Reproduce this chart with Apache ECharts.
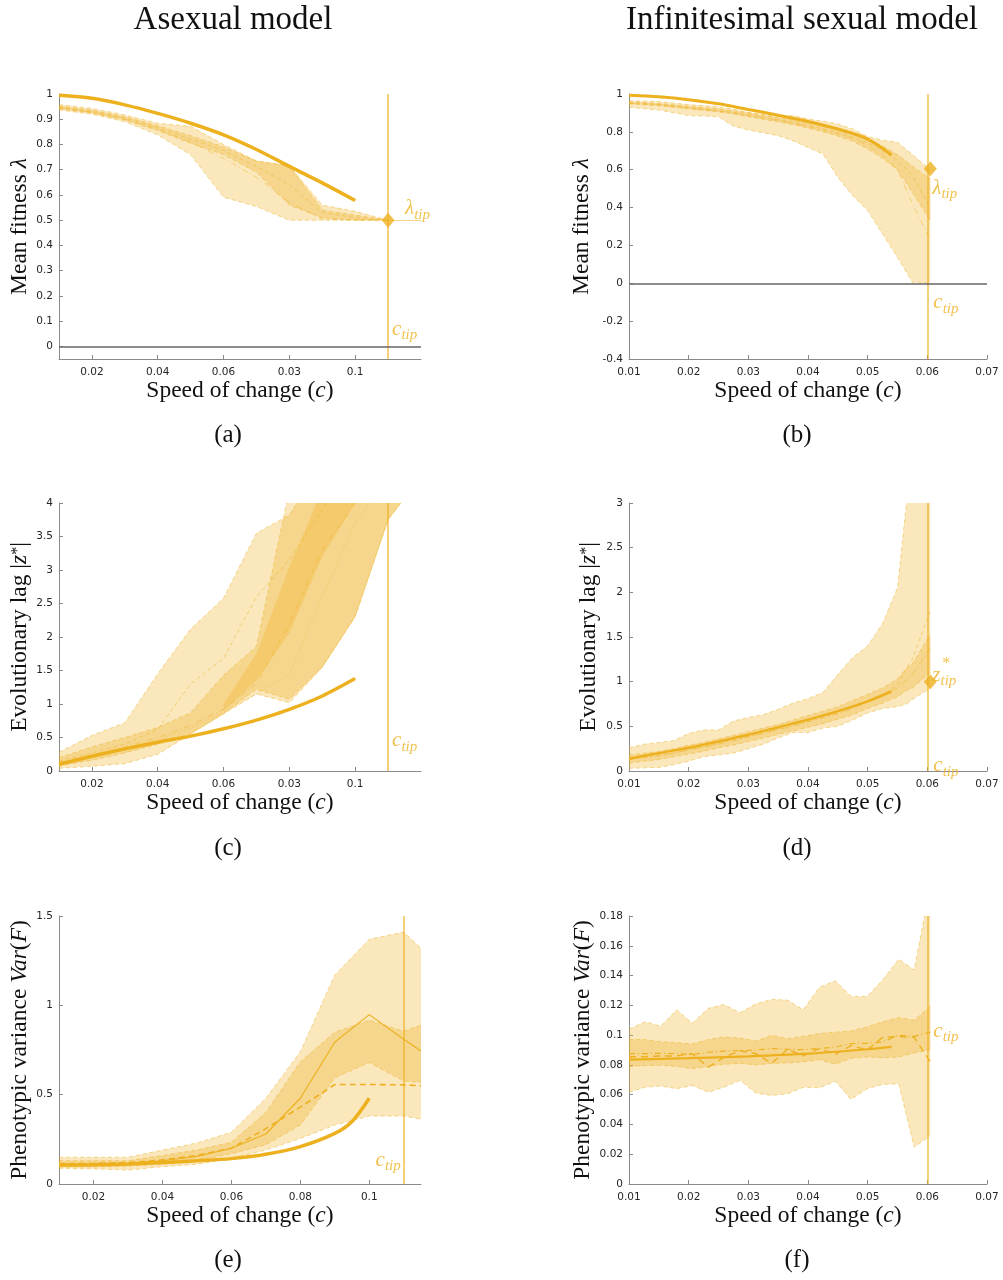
<!DOCTYPE html>
<html><head><meta charset="utf-8">
<script src="https://cdn.jsdelivr.net/npm/echarts@6/dist/echarts.min.js"></script>
<style>html,body{margin:0;padding:0;background:#fff}#c{width:1003px;height:1280px}</style>
</head><body><div id="c"></div><script>
// ---------------- DATA ----------------
// Panel (a) asexual, mean fitness
const aX = [0.01,0.02,0.03,0.04,0.05,0.06,0.07,0.08,0.09,0.10,0.11];
const aOuterHi = [0.958,0.943,0.917,0.884,0.872,0.80,0.735,0.715,0.56,0.535,0.5];
const aOuterLo = [0.937,0.92,0.89,0.838,0.759,0.591,0.554,0.5,0.5,0.5,0.5];
const aInnerHi = [0.952,0.936,0.91,0.874,0.835,0.79,0.735,0.715,0.54,0.52,0.5];
const aInnerLo = [0.942,0.925,0.897,0.855,0.805,0.76,0.69,0.56,0.51,0.5,0.5];
const aMed1 = [0.947,0.931,0.905,0.866,0.822,0.776,0.712,0.64,0.53,0.51,0.5];
const aMed2 = [0.945,0.928,0.9,0.86,0.81,0.745,0.67,0.57,0.505,0.5,0.5];
const aTheoryX = [0.01,0.02,0.03,0.04,0.05,0.06,0.07,0.08,0.09,0.10];
const aTheory = [0.995,0.983,0.957,0.923,0.884,0.838,0.78,0.713,0.648,0.578];
const cTipA = 0.11, lamTipA = 0.5;

// Panel (b) sexual, mean fitness
const bX = [0.01,0.015,0.02,0.025,0.0275,0.03,0.035,0.0375,0.04,0.0425,0.045,0.0475,0.05,0.0525,0.055,0.0575,0.0605];
const bOuterHi = [0.965,0.96,0.944,0.933,0.92,0.903,0.882,0.886,0.868,0.856,0.842,0.815,0.775,0.756,0.745,0.68,0.6];
const bOuterLo = [0.93,0.915,0.886,0.88,0.83,0.81,0.78,0.753,0.718,0.683,0.56,0.463,0.384,0.26,0.137,0.005,0.0];
const bInnerHi = [0.958,0.95,0.935,0.922,0.912,0.9,0.875,0.862,0.848,0.833,0.815,0.792,0.765,0.725,0.68,0.62,0.55];
const bInnerLo = [0.948,0.938,0.922,0.905,0.895,0.88,0.853,0.838,0.82,0.8,0.778,0.75,0.71,0.66,0.6,0.48,0.33];
const bMed1 = [0.953,0.944,0.928,0.913,0.903,0.89,0.864,0.85,0.834,0.816,0.797,0.773,0.742,0.7,0.65,0.57,0.4];
const bMed2 = [0.952,0.942,0.925,0.91,0.9,0.886,0.86,0.845,0.828,0.81,0.79,0.765,0.73,0.68,0.6,0.42,0.23];
const bTheoryX = [0.01,0.015,0.02,0.025,0.03,0.035,0.04,0.045,0.05,0.054];
const bTheory = [0.993,0.985,0.97,0.948,0.918,0.888,0.855,0.815,0.762,0.678];
const cTipB = 0.0605, lamTipB = 0.605;

// Panel (c) asexual, evolutionary lag
const cX = [0.01,0.02,0.03,0.04,0.05,0.06,0.07,0.08,0.09,0.10,0.11,0.12];
const cOuterHi = [0.28,0.53,0.72,1.45,2.12,2.58,3.55,3.82,4.6,5.3,6.0,6.6];
const cOuterLo = [0.04,0.07,0.11,0.25,0.55,0.85,1.15,1.02,1.55,2.3,3.75,4.4];
const cMidHi = [0.2,0.36,0.5,0.65,0.87,1.43,1.86,4.2,5.0,5.6,6.2,6.8];
const cMidLo = [0.08,0.16,0.27,0.4,0.56,0.86,1.22,1.07,1.55,2.31,3.75,4.4];
const cInX = [0.06,0.07,0.08,0.09,0.10,0.11];
const cInHi = [1.0,1.75,3.05,4.2,5.0,5.6];
const cInLo = [0.9,1.35,2.06,3.2,4.0,4.6];
const cMed1 = [0.15,0.27,0.4,0.62,1.3,1.68,2.6,3.15,3.9,4.6,5.2,5.8];
const cMed2 = [0.13,0.24,0.36,0.5,0.68,0.92,1.3,2.2,3.3,4.0,4.6,5.2];
const cMed3 = [0.12,0.22,0.33,0.47,0.64,0.88,1.15,1.45,2.6,3.7,4.4,5.0];
const cTheoryX = [0.01,0.02,0.03,0.04,0.05,0.06,0.07,0.08,0.09,0.10];
const cTheory = [0.1,0.22,0.33,0.43,0.52,0.63,0.76,0.92,1.12,1.38];
const cTipC = 0.11;

// Panel (d) sexual, evolutionary lag
const dX = [0.01,0.0125,0.015,0.0175,0.02,0.0225,0.025,0.0275,0.03,0.0325,0.035,0.0375,0.04,0.0425,0.045,0.0475,0.05,0.0525,0.055,0.0565,0.0575,0.0605];
const dOuterHi = [0.26,0.3,0.32,0.34,0.42,0.46,0.46,0.56,0.6,0.63,0.69,0.76,0.81,0.88,1.08,1.27,1.4,1.65,2.05,3.0,3.6,4.0];
const dOuterLo = [0.03,0.035,0.04,0.07,0.11,0.16,0.18,0.2,0.25,0.3,0.37,0.43,0.43,0.48,0.5,0.57,0.65,0.7,0.72,0.75,0.8,0.93];
const dInnerHi = [0.18,0.2,0.22,0.25,0.29,0.32,0.36,0.4,0.44,0.48,0.52,0.57,0.62,0.67,0.72,0.79,0.86,0.93,1.03,1.15,1.2,1.53];
const dInnerLo = [0.09,0.11,0.13,0.16,0.19,0.22,0.26,0.29,0.33,0.37,0.41,0.45,0.49,0.53,0.58,0.63,0.7,0.76,0.83,0.9,0.93,1.1];
const dMed1 = [0.135,0.155,0.175,0.2,0.24,0.27,0.31,0.345,0.385,0.425,0.465,0.51,0.555,0.6,0.65,0.71,0.78,0.86,0.96,1.15,1.25,1.8];
const dMed2 = [0.13,0.15,0.17,0.2,0.235,0.265,0.3,0.34,0.38,0.42,0.46,0.505,0.55,0.595,0.64,0.7,0.77,0.84,0.93,1.02,1.08,1.38];
const dTheoryX = [0.01,0.015,0.02,0.025,0.03,0.035,0.04,0.045,0.05,0.054];
const dTheory = [0.138,0.2,0.26,0.33,0.405,0.49,0.575,0.67,0.78,0.89];
const cTipD = 0.0605, zTipD = 1.0;

// Panel (e) asexual, phenotypic variance
const eX = [0.01,0.02,0.03,0.04,0.05,0.06,0.07,0.08,0.09,0.10,0.11,0.115];
const eOuterHi = [0.15,0.15,0.15,0.19,0.23,0.29,0.48,0.74,1.17,1.37,1.41,1.32];
const eOuterLo = [0.088,0.085,0.078,0.097,0.11,0.143,0.19,0.255,0.33,0.38,0.38,0.363];
const eInnerHi = [0.13,0.13,0.13,0.16,0.19,0.233,0.40,0.684,0.85,0.917,0.855,0.89];
const eInnerLo = [0.095,0.095,0.1,0.11,0.13,0.17,0.22,0.33,0.594,0.68,0.576,0.57];
const eMedSolid = [0.11,0.11,0.115,0.13,0.155,0.2,0.28,0.48,0.795,0.948,0.81,0.745];
const eMedDash = [0.115,0.115,0.12,0.135,0.16,0.2,0.31,0.43,0.557,0.557,0.555,0.55];
const eTheoryX = [0.01,0.02,0.03,0.04,0.05,0.06,0.07,0.08,0.09,0.095,0.10];
const eTheory = [0.106,0.108,0.112,0.12,0.13,0.142,0.166,0.209,0.283,0.35,0.48];
const cTipE = 0.11;

// Panel (f) sexual, phenotypic variance
const fX = [0.0100,0.0127,0.0153,0.0180,0.0206,0.0233,0.0259,0.0286,0.0313,0.0339,0.0366,0.0392,0.0419,0.0446,0.0472,0.0499,0.0525,0.0552,0.0578,0.0605];
const fOuterHi = [0.104,0.109,0.106,0.117,0.108,0.118,0.1205,0.115,0.121,0.124,0.1235,0.117,0.132,0.1365,0.126,0.126,0.137,0.151,0.1437,0.20];
const fOuterLo = [0.0617,0.065,0.0658,0.064,0.0662,0.0617,0.065,0.0696,0.061,0.0595,0.0606,0.065,0.0646,0.069,0.0568,0.064,0.0669,0.0673,0.0247,0.0325];
const fInnerHi = [0.097,0.097,0.0955,0.095,0.094,0.097,0.0988,0.098,0.096,0.0999,0.0976,0.0992,0.101,0.102,0.1028,0.1055,0.1089,0.1118,0.110,0.1194];
const fInnerLo = [0.079,0.0795,0.0797,0.079,0.0774,0.079,0.0804,0.081,0.080,0.081,0.0813,0.082,0.0835,0.0804,0.0844,0.0853,0.0848,0.0853,0.088,0.0902];
const fMedDash = [0.0855,0.0855,0.086,0.086,0.0875,0.0785,0.085,0.0895,0.0875,0.081,0.0905,0.086,0.091,0.087,0.093,0.09,0.0985,0.099,0.0985,0.082];
const fMedDashDot = [0.0875,0.0875,0.0878,0.0875,0.087,0.0885,0.0893,0.0895,0.09,0.091,0.0905,0.0902,0.091,0.092,0.0943,0.0945,0.0954,0.0999,0.0992,0.1021];
const fTheoryX = [0.01,0.02,0.03,0.04,0.05,0.054];
const fTheory = [0.0836,0.0845,0.0857,0.0875,0.0905,0.0921];
const cTipF = 0.0605;

// Tick values and labels
const xTicksL = [0.02,0.04,0.06,0.08,0.1];
const xLabelsAC = ['0.02','0.04','0.06','0.03','0.1'];
const xLabelsE = ['0.02','0.04','0.06','0.08','0.1'];
const xTicksR = [0.01,0.02,0.03,0.04,0.05,0.06,0.07];
const xLabelsR = ['0.01','0.02','0.03','0.04','0.05','0.06','0.07'];
const yTicksA = [0,0.1,0.2,0.3,0.4,0.5,0.6,0.7,0.8,0.9,1];
const yLabelsA = ['0','0.1','0.2','0.3','0.4','0.5','0.6','0.7','0.8','0.9','1'];
const yTicksB = [-0.4,-0.2,0,0.2,0.4,0.6,0.8,1];
const yLabelsB = ['-0.4','-0.2','0','0.2','0.4','0.6','0.8','1'];
const yTicksC = [0,0.5,1,1.5,2,2.5,3,3.5,4];
const yLabelsC = ['0','0.5','1','1.5','2','2.5','3','3.5','4'];
const yTicksD = [0,0.5,1,1.5,2,2.5,3];
const yLabelsD = ['0','0.5','1','1.5','2','2.5','3'];
const yTicksE = [0,0.5,1,1.5];
const yLabelsE = ['0','0.5','1','1.5'];
const yTicksF = [0,0.02,0.04,0.06,0.08,0.1,0.12,0.14,0.16,0.18];
const yLabelsF = ['0','0.02','0.04','0.06','0.08','0.1','0.12','0.14','0.16','0.18'];

// ---------------- STYLE ----------------
const C = '#EDB120';
const FILL = 'rgba(237,177,32,0.3)';
const EDGE = 'rgba(237,177,32,0.6)';
const TIPLINE = 'rgba(237,177,32,0.8)';
const SERIF = '"Liberation Serif", serif';
const SANS = '"DejaVu Sans", sans-serif';
const AX = '#8a8a8a';

function lab(ticks, labels, v) {
  for (let i = 0; i < ticks.length; i++) if (Math.abs(ticks[i] - v) < 1e-9) return labels[i];
  return '';
}
const nameRich = {
  n: {fontFamily: SERIF, fontSize: 23.5, color: '#111', verticalAlign: 'middle'},
  i: {fontFamily: SERIF, fontSize: 23.5, fontStyle: 'italic', color: '#111', verticalAlign: 'middle'},
  sup: {fontFamily: SERIF, fontSize: 16, color: '#111', verticalAlign: 'middle', padding: [0, 0, 4, 0]}
};
function xAx(g, min, max, ticks, labels) {
  return {
    type: 'value', gridIndex: g, min: min, max: max,
    axisLine: {show: true, onZero: false, lineStyle: {color: AX, width: 1}},
    axisTick: {show: true, inside: true, length: 4, customValues: ticks, lineStyle: {color: AX}},
    axisLabel: {show: true, customValues: ticks, formatter: v => lab(ticks, labels, v), color: '#262626', fontSize: 10.5, fontFamily: SANS, margin: 8},
    splitLine: {show: false},
    name: '{n|Speed of change (}{i|c}{n|)}', nameLocation: 'middle', nameGap: 17,
    nameTextStyle: {rich: nameRich}
  };
}
function yAx(g, min, max, ticks, labels, name, gap) {
  return {
    type: 'value', gridIndex: g, min: min, max: max,
    axisLine: {show: true, onZero: false, lineStyle: {color: AX, width: 1}},
    axisTick: {show: true, inside: true, length: 4, customValues: ticks, lineStyle: {color: AX}},
    axisLabel: {show: true, customValues: ticks, formatter: v => lab(ticks, labels, v), color: '#262626', fontSize: 10.5, fontFamily: SANS, margin: 6},
    splitLine: {show: false},
    name: name, nameLocation: 'middle', nameGap: gap, nameRotate: 90,
    nameTextStyle: {rich: nameRich}
  };
}
function band(g, xs, lo, hi) {
  return {
    type: 'custom', xAxisIndex: g, yAxisIndex: g, clip: true, silent: true, z: 1,
    data: xs.map((x, i) => [x, lo[i], hi[i]]),
    renderItem: function (params, api) {
      if (params.dataIndex !== 0) return null;
      const pts = [];
      for (let i = 0; i < xs.length; i++) pts.push(api.coord([xs[i], hi[i]]));
      for (let i = xs.length - 1; i >= 0; i--) pts.push(api.coord([xs[i], lo[i]]));
      return {type: 'polygon', shape: {points: pts}, style: {fill: FILL}};
    }
  };
}
function ln(g, xs, ys, opt) {
  return {
    type: 'line', xAxisIndex: g, yAxisIndex: g, silent: true, symbol: 'none', showSymbol: false,
    clip: true, z: opt.z || 3, smooth: opt.smooth || false,
    data: xs.map((x, i) => [x, ys[i]]),
    lineStyle: {color: opt.color || EDGE, width: opt.width || 0.8, type: opt.type || [4, 3]}
  };
}
function edges(g, xs, lo, hi) {
  return [ln(g, xs, lo, {}), ln(g, xs, hi, {})];
}
function theory(g, xs, ys, w) {
  return ln(g, xs, ys, {color: C, width: w, type: 'solid', z: 6, smooth: 0.3});
}
const tipRich = {
  m: {fontFamily: SERIF, fontStyle: 'italic', fontSize: 21, color: C, verticalAlign: 'top', lineHeight: 20},
  s: {fontFamily: SERIF, fontStyle: 'italic', fontSize: 15, color: C, verticalAlign: 'top', lineHeight: 15, padding: [9, 0, 0, 0]},
  st: {fontFamily: SERIF, fontSize: 16, color: C}
};
function tipLabel(g, x, y, text, pos, offset) {
  return {value: [x, y], symbolSize: 0,
    label: {show: true, position: pos, distance: 3, offset: offset, formatter: text, rich: tipRich}};
}
function tipSeries(g, ctip, diamond, labels, zeroLine, horiz) {
  const mlData = [{xAxis: ctip}];
  if (zeroLine) mlData.push({yAxis: 0, lineStyle: {color: '#666', width: 1.6, type: 'solid'}});
  if (horiz) mlData.push([{coord: horiz[0], lineStyle: {color: 'rgba(237,177,32,0.55)', width: 1, type: 'solid'}}, {coord: horiz[1]}]);
  const s = [{
    type: 'scatter', xAxisIndex: g, yAxisIndex: g, silent: true, z: 9, symbol: 'circle',
    itemStyle: {color: 'rgba(0,0,0,0)'},
    data: labels,
    markLine: {symbol: 'none', silent: true, animation: false, label: {show: false},
      lineStyle: {color: TIPLINE, width: 1.5, type: 'solid'}, data: mlData}
  }];
  if (diamond) s.push({
    type: 'scatter', xAxisIndex: g, yAxisIndex: g, silent: true, z: 10, symbol: 'diamond', symbolSize: [13, 15],
    itemStyle: {color: C}, data: [diamond]
  });
  return s;
}

const grids = [
  {left: 59, top: 94, width: 362, height: 265},
  {left: 629, top: 94, width: 358, height: 265},
  {left: 59, top: 503, width: 362, height: 268},
  {left: 629, top: 503, width: 358, height: 268},
  {left: 59, top: 916, width: 362, height: 268},
  {left: 629, top: 916, width: 358, height: 268}
].map(g => Object.assign({outerBoundsMode: 'none', containLabel: false}, g));

const nameLam = '{n|Mean fitness }{i|λ}';
const nameLag = '{n|Evolutionary lag |}{i|z}{sup|*}{n||}';
const nameVar = '{n|Phenotypic variance }{i|Var}{n|(}{i|F}{n|)}';

const xAxes = [
  xAx(0, 0.01, 0.12, xTicksL, xLabelsAC),
  xAx(1, 0.01, 0.07, xTicksR, xLabelsR),
  xAx(2, 0.01, 0.12, xTicksL, xLabelsAC),
  xAx(3, 0.01, 0.07, xTicksR, xLabelsR),
  xAx(4, 0.01, 0.115, xTicksL, xLabelsE),
  xAx(5, 0.01, 0.07, xTicksR, xLabelsR)
];
const yAxes = [
  yAx(0, -0.05, 1, yTicksA, yLabelsA, nameLam, 27),
  yAx(1, -0.4, 1, yTicksB, yLabelsB, nameLam, 35),
  yAx(2, 0, 4, yTicksC, yLabelsC, nameLag, 27),
  yAx(3, 0, 3, yTicksD, yLabelsD, nameLag, 28),
  yAx(4, 0, 1.5, yTicksE, yLabelsE, nameVar, 27),
  yAx(5, 0, 0.18, yTicksF, yLabelsF, nameVar, 34)
];

const CT = '{m|c}{s|tip}';
const LT = '{m|λ}{s|tip}';
const ZT = '{m|z}{s|tip}';

const series = [].concat(
  // (a)
  band(0, aX, aOuterLo, aOuterHi), band(0, aX, aInnerLo, aInnerHi),
  edges(0, aX, aOuterLo, aOuterHi), edges(0, aX, aInnerLo, aInnerHi),
  ln(0, aX, aMed1, {}), ln(0, aX, aMed2, {type: [6, 3, 1, 3]}),
  theory(0, aTheoryX, aTheory, 3.5),
  tipSeries(0, cTipA, [cTipA, lamTipA],
    [tipLabel(0, cTipA, lamTipA, LT, 'right', [14, -12]), tipLabel(0, cTipA, 0.07, CT, 'right', [1, 0])],
    true, [[cTipA, lamTipA], [0.12, lamTipA]]),
  // (b)
  band(1, bX, bOuterLo, bOuterHi), band(1, bX, bInnerLo, bInnerHi),
  edges(1, bX, bOuterLo, bOuterHi), edges(1, bX, bInnerLo, bInnerHi),
  ln(1, bX, bMed1, {}), ln(1, bX, bMed2, {type: [6, 3, 1, 3]}),
  theory(1, bTheoryX, bTheory, 3),
  tipSeries(1, cTipB, [cTipB, lamTipB],
    [tipLabel(1, cTipB, lamTipB, LT, 'right', [-1, 19]), tipLabel(1, cTipB, -0.1, CT, 'right', [0, 0])],
    true, null),
  // (c)
  band(2, cX, cOuterLo, cOuterHi), band(2, cX, cMidLo, cMidHi), band(2, cInX, cInLo, cInHi),
  edges(2, cX, cOuterLo, cOuterHi), edges(2, cX, cMidLo, cMidHi),
  ln(2, cX, cMed1, {}), ln(2, cX, cMed2, {type: [6, 3, 1, 3]}), ln(2, cX, cMed3, {type: [1, 2]}),
  theory(2, cTheoryX, cTheory, 3.5),
  tipSeries(2, cTipC, null, [tipLabel(2, cTipC, 0.46, CT, 'right', [1, 0])], false, null),
  // (d)
  band(3, dX, dOuterLo, dOuterHi), band(3, dX, dInnerLo, dInnerHi),
  edges(3, dX, dOuterLo, dOuterHi), edges(3, dX, dInnerLo, dInnerHi),
  ln(3, dX, dMed1, {}), ln(3, dX, dMed2, {type: [6, 3, 1, 3]}),
  theory(3, dTheoryX, dTheory, 2.5),
  tipSeries(3, cTipD, [cTipD, zTipD],
    [tipLabel(3, cTipD, zTipD, ZT, 'right', [-1, -7]),
     {value: [cTipD, zTipD], symbolSize: 0, label: {show: true, position: 'right', distance: 3, offset: [9, -18], formatter: '{st|*}', rich: tipRich}},
     tipLabel(3, cTipD, 0.065, CT, 'right', [0, 0])],
    false, null),
  // (e)
  band(4, eX, eOuterLo, eOuterHi), band(4, eX, eInnerLo, eInnerHi),
  edges(4, eX, eOuterLo, eOuterHi), edges(4, eX, eInnerLo, eInnerHi),
  ln(4, eX, eMedSolid, {type: 'solid', width: 1.2, color: C, z: 4}),
  ln(4, eX, eMedDash, {type: [6, 4], width: 1.6, color: C, z: 4}),
  theory(4, eTheoryX, eTheory, 3.5),
  tipSeries(4, cTipE, null, [tipLabel(4, cTipE, 0.134, CT, 'left', [0, 0])], false, null),
  // (f)
  band(5, fX, fOuterLo, fOuterHi), band(5, fX, fInnerLo, fInnerHi),
  edges(5, fX, fOuterLo, fOuterHi), edges(5, fX, fInnerLo, fInnerHi),
  ln(5, fX, fMedDash, {type: [7, 5], width: 1.4, color: C, z: 4}),
  ln(5, fX, fMedDashDot, {type: [6, 3, 1, 3], width: 1.2, color: C, z: 4}),
  theory(5, fTheoryX, fTheory, 2.2),
  tipSeries(5, cTipF, null, [tipLabel(5, cTipF, 0.103, CT, 'right', [0, 0])], false, null)
);

function txt(x, y, text, size) {
  return {type: 'text', x: x, y: y, silent: true,
    style: {text: text, fontFamily: SERIF, fontSize: size, fill: '#111', align: 'center', verticalAlign: 'middle'}};
}
const graphics = [
  txt(233, 20, 'Asexual model', 33),
  txt(802, 20, 'Infinitesimal sexual model', 33),
  txt(228, 435, '(a)', 25), txt(797, 435, '(b)', 25),
  txt(228, 848, '(c)', 25), txt(797, 848, '(d)', 25),
  txt(228, 1260, '(e)', 25), txt(797, 1260, '(f)', 25)
];

const chart = echarts.init(document.getElementById('c'), null, {renderer: 'canvas'});
chart.setOption({
  animation: false,
  backgroundColor: '#fff',
  grid: grids,
  xAxis: xAxes,
  yAxis: yAxes,
  series: series,
  graphic: graphics
});
</script></body></html>
